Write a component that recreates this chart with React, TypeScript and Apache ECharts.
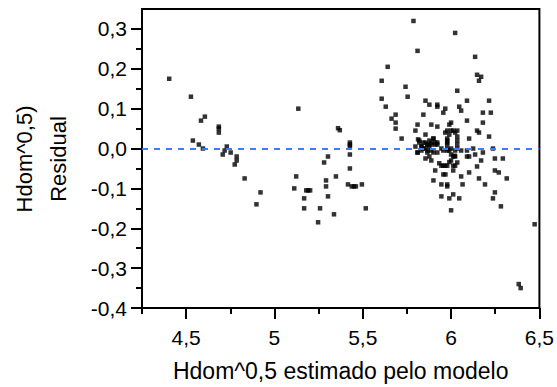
import React, { useEffect, useRef } from "react";
import * as echarts from "echarts";

// Predicted values (Hdom^0,5 estimado pelo modelo) and residuals
const predictedLow = [4.404, 4.527, 4.538, 4.572, 4.595, 4.584, 4.606, 4.685, 4.685, 4.685, 4.707, 4.718, 4.73, 4.752, 4.786, 4.786, 4.775, 4.831, 4.921, 4.898];
const residualLow = [0.175, 0.13, 0.02, 0.01, 0.0, 0.07, 0.08, 0.055, 0.05, 0.04, -0.015, -0.005, 0.005, -0.01, -0.02, -0.03, -0.04, -0.075, -0.11, -0.14];

const predictedMid = [5.135, 5.123, 5.112, 5.168, 5.168, 5.18, 5.191, 5.202, 5.247, 5.258, 5.281, 5.303, 5.292, 5.292, 5.303, 5.337, 5.348, 5.36, 5.37, 5.427, 5.427, 5.427, 5.427, 5.427, 5.416, 5.438, 5.45, 5.461, 5.495, 5.517];
const residualMid = [0.1, -0.07, -0.1, -0.125, -0.15, -0.105, -0.105, -0.105, -0.185, -0.15, -0.035, -0.02, -0.08, -0.095, -0.12, -0.165, -0.07, 0.051, 0.046, 0.015, 0.01, 0.005, -0.015, -0.05, -0.09, -0.095, -0.095, -0.095, -0.09, -0.15];

const predictedHighUpper = [5.787, 6.023, 5.81, 6.136, 5.641, 6.147, 6.17, 6.158, 5.607, 5.742, 5.754, 5.607, 6.035, 5.63, 5.855, 5.877, 5.922, 5.922, 5.967, 5.956, 6.046, 6.057, 6.09, 6.215, 6.18, 6.225, 5.663, 5.686, 5.686, 5.686, 5.843, 5.72, 5.81, 5.888, 5.922, 5.798, 5.855, 5.967, 5.99, 6.0, 5.978, 5.99, 6.0, 6.012, 6.023, 6.035, 6.09, 6.18, 6.147, 6.158, 6.215, 6.102, 6.035, 6.035, 6.035, 5.978, 5.978];
const residualHighUpper = [0.32, 0.29, 0.245, 0.23, 0.205, 0.185, 0.18, 0.17, 0.17, 0.155, 0.13, 0.125, 0.145, 0.105, 0.12, 0.11, 0.11, 0.105, 0.1, 0.09, 0.105, 0.095, 0.12, 0.12, 0.09, 0.09, 0.075, 0.085, 0.065, 0.05, 0.085, 0.025, 0.06, 0.06, 0.055, 0.045, 0.035, 0.04, 0.06, 0.065, 0.045, 0.035, 0.045, 0.045, 0.04, 0.045, 0.07, 0.065, 0.045, 0.04, 0.03, 0.025, 0.03, 0.02, 0.01, 0.02, 0.01];

const predictedHighCore = [5.813, 5.82, 5.798, 5.832, 5.855, 5.866, 5.877, 5.888, 5.9, 5.91, 5.922, 5.945, 5.843, 5.866, 5.81, 6.0, 6.02, 5.978, 6.035, 5.82, 5.843, 5.866, 5.832, 5.855, 5.877, 5.888, 5.9, 5.91, 5.922, 5.81, 5.832, 5.866, 5.888, 5.9, 5.922, 5.877, 5.888, 5.855, 5.956, 5.978, 5.99, 6.0, 6.023, 6.012, 6.023, 6.035, 5.99, 5.933, 5.945, 5.956, 5.967, 5.978, 6.0, 6.012, 6.012, 6.023, 5.978, 5.978];
const residualHighCore = [0.023, 0.015, 0.005, 0.005, 0.015, 0.01, 0.02, 0.01, 0.025, 0.015, 0.01, 0.0, 0.0, -0.005, -0.01, -0.015, -0.018, -0.005, 0.0, 0.02, 0.015, 0.01, 0.005, 0.0, 0.005, 0.015, 0.025, 0.01, 0.015, -0.01, -0.005, -0.01, -0.005, -0.01, -0.01, -0.02, -0.03, -0.025, -0.005, 0.0, -0.005, 0.0, -0.005, -0.02, -0.02, -0.035, -0.034, -0.037, -0.043, -0.043, -0.043, -0.043, -0.03, -0.043, -0.055, -0.043, 0.025, 0.015];

const predictedHighLower = [5.9, 5.91, 5.945, 5.945, 5.978, 5.978, 5.99, 6.012, 6.0, 6.046, 6.065, 6.057, 5.956, 5.968, 6.102, 6.158, 6.192, 6.147, 6.17, 6.18, 6.136, 6.125, 6.09, 6.09, 6.102, 6.057, 6.237, 6.248, 6.293, 6.248, 6.27, 6.315, 6.248, 6.237, 6.282, 6.473, 6.383, 6.394];
const residualHighLower = [-0.08, -0.055, -0.09, -0.12, -0.09, -0.095, -0.125, -0.115, -0.155, -0.125, -0.09, -0.07, -0.065, -0.065, -0.06, -0.075, -0.09, -0.045, -0.03, -0.01, -0.015, 0.0, -0.005, -0.02, -0.02, -0.005, 0.0, -0.025, -0.025, -0.055, -0.06, -0.075, -0.11, -0.125, -0.145, -0.19, -0.34, -0.35];

const xMajorTicks = [4.5, 5, 5.5, 6, 6.5];
const xMinorTicks = [4.25, 4.75, 5.25, 5.75, 6.25];
const yMajorTicks = [-0.4, -0.3, -0.2, -0.1, 0, 0.1, 0.2, 0.3];
const yMinorTicks = [-0.35, -0.25, -0.15, -0.05, 0.05, 0.15, 0.25];

const xTitle = "Hdom^0,5 estimado pelo modelo";
const yTitleLine1 = "Hdom^0,5)";
const yTitleLine2 = "Residual";

const FONT = "Liberation Sans, Arial, sans-serif";

function pairs(xs: number[], ys: number[]) {
  return xs.map((x, i) => [x, ys[i]]);
}

export default function App() {
  const ref = useRef<HTMLDivElement>(null);
  useEffect(() => {
    if (!ref.current) return;
    const chart = echarts.init(ref.current, undefined, { renderer: "svg" });
    const data = [
      ...pairs(predictedLow, residualLow),
      ...pairs(predictedMid, residualMid),
      ...pairs(predictedHighUpper, residualHighUpper),
      ...pairs(predictedHighCore, residualHighCore),
      ...pairs(predictedHighLower, residualHighLower),
    ];
    const xFmt = (v: number) => String(Math.round(v * 100) / 100).replace(".", ",");
    const yFmt = (v: number) => v.toFixed(1).replace(".", ",");
    chart.setOption({
      animation: false,
      textStyle: { fontFamily: FONT },
      grid: {
        left: 142,
        top: 9,
        right: 15,
        bottom: 78,
        show: true,
        borderColor: "#000",
        borderWidth: 2,
        backgroundColor: "transparent",
      },
      xAxis: [
        {
          type: "value",
          min: 4.25,
          max: 6.5,
          interval: 0.25,
          axisLine: { show: true, onZero: false, lineStyle: { color: "#000", width: 2 } },
          axisTick: { show: true, length: 6, customValues: xMinorTicks, lineStyle: { color: "#000", width: 2 } },
          axisLabel: { show: false },
          splitLine: { show: false },
          name: xTitle,
          nameLocation: "middle",
          nameGap: 51,
          nameTextStyle: { color: "#000", fontSize: 23, fontFamily: FONT },
        },
        {
          type: "value",
          min: 4.25,
          max: 6.5,
          position: "bottom",
          axisLine: { show: false, onZero: false },
          axisTick: { show: true, length: 11, customValues: xMajorTicks, lineStyle: { color: "#000", width: 2 } },
          axisLabel: {
            show: true,
            customValues: xMajorTicks,
            formatter: xFmt,
            color: "#000",
            fontSize: 21,
            margin: 19,
            fontFamily: FONT,
          },
          splitLine: { show: false },
        },
      ],
      yAxis: [
        {
          type: "value",
          min: -0.4,
          max: 0.35,
          interval: 0.05,
          position: "left",
          axisLine: { show: true, onZero: false, lineStyle: { color: "#000", width: 2 } },
          axisTick: { show: true, length: 6, customValues: yMinorTicks, lineStyle: { color: "#000", width: 2 } },
          axisLabel: { show: false },
          splitLine: { show: false },
        },
        {
          type: "value",
          min: -0.4,
          max: 0.35,
          position: "left",
          axisLine: { show: false, onZero: false },
          axisTick: { show: true, length: 11, customValues: yMajorTicks, lineStyle: { color: "#000", width: 2 } },
          axisLabel: {
            show: true,
            customValues: yMajorTicks,
            formatter: yFmt,
            color: "#000",
            fontSize: 21,
            margin: 15,
            fontFamily: FONT,
          },
          splitLine: { show: false },
        },
      ],
      graphic: [
        {
          type: "text",
          x: 24,
          y: 159,
          rotation: Math.PI / 2,
          style: { text: yTitleLine1, fontSize: 22, fontFamily: FONT, fill: "#000", align: "center", verticalAlign: "middle" },
        },
        {
          type: "text",
          x: 58,
          y: 159,
          rotation: Math.PI / 2,
          style: { text: yTitleLine2, fontSize: 22, fontFamily: FONT, fill: "#000", align: "center", verticalAlign: "middle" },
        },
      ],
      series: [
        {
          type: "scatter",
          xAxisIndex: 0,
          yAxisIndex: 0,
          symbol: "rect",
          symbolSize: 4.5,
          itemStyle: { color: "#000" },
          data,
          markLine: {
            silent: true,
            symbol: ["none", "none"],
            label: { show: false },
            lineStyle: { color: "#3f7bff", width: 2, type: [6, 6] },
            data: [{ yAxis: 0 }],
          },
          z: 3,
        },
      ],
    });
    return () => chart.dispose();
  }, []);
  return <div ref={ref} style={{ position: "fixed", left: 0, top: 0, width: 557, height: 387, background: "#fff" }} />;
}
